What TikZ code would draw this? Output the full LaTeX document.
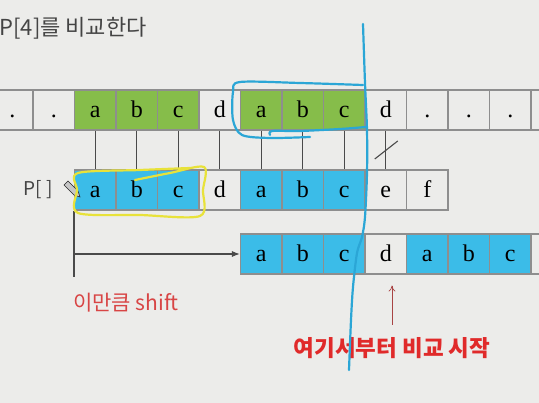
\documentclass[tikz,border=0pt]{standalone}
\usepackage{fontspec}
\setmainfont{Liberation Serif}
\newfontfamily\kr{Noto Sans CJK KR}
\usetikzlibrary{arrows.meta,calc}

\definecolor{bg}{HTML}{ECECEA}
\definecolor{cellgreen}{HTML}{86BD4A}
\definecolor{cellblue}{HTML}{3BBCE8}
\definecolor{cellline}{HTML}{8E8E8E}
\definecolor{linkgray}{HTML}{4A4A4A}
\definecolor{titlegray}{HTML}{444444}
\definecolor{penblue}{HTML}{2BA6D6}
\definecolor{penyellow}{HTML}{E8E23A}
\definecolor{softred}{HTML}{D84545}
\definecolor{darkred}{HTML}{A84444}
\definecolor{strongred}{HTML}{E02A2A}

\begin{document}
\begin{tikzpicture}[x=1pt,y=-1pt,
	cell/.style={draw=cellline,line width=1.1pt,minimum width=41.5pt,minimum height=40pt,
		inner sep=0pt,text height=18pt,text depth=2pt,font=\fontsize{24}{24}\selectfont},
	link/.style={draw=linkgray,line width=1.1pt},
	pen/.style={line width=2.2pt,line cap=round,line join=round}]
	\useasboundingbox (0,0) rectangle (539,403);
	\fill[bg] (0,0) rectangle (539,403);
	\clip (0,0) rectangle (539,403);

	\node[anchor=west,text=titlegray,font=\kr\fontsize{22}{22}\selectfont] (title) at (-4,28) {P[4]를 비교한다};

	% text row
	\foreach \t/\f [count=\i from 0] in {./bg,./bg,a/cellgreen,b/cellgreen,c/cellgreen,d/bg,a/cellgreen,b/cellgreen,c/cellgreen,d/bg,./bg,./bg,./bg,{}/bg}
		\node[cell,fill=\f] (t\i) at ({12.25+41.5*\i},110) {\t};

	% pattern row
	\foreach \t/\f [count=\i from 2] in {a/cellblue,b/cellblue,c/cellblue,d/bg,a/cellblue,b/cellblue,c/cellblue,e/bg,f/bg}
		\node[cell,fill=\f] (m\i) at ({12.25+41.5*\i},190) {\t};
	\node[text=titlegray,font=\kr\fontsize{19}{19}\selectfont] (plabel) at (38,190) {P[ ]};

	% shifted pattern row
	\foreach \t/\f [count=\i from 6] in {a/cellblue,b/cellblue,c/cellblue,d/bg,a/cellblue,b/cellblue,c/cellblue,{}/bg}
		\node[cell,fill=\f] (b\i) at ({12.25+41.5*\i},254) {\t};

	\foreach \i in {2,...,9}
		\draw[link] (t\i.south) -- (m\i.north);
	\draw[link] ($(t9.south)!0.5!(m9.north)+(-11,9)$) -- +(23,-18);

	% shift
	\coordinate (shiftend) at ($(m2.south west)+(0,66)$);
	\draw[link] (m2.south west) -- (shiftend);
	\draw[link,-{Latex[length=8pt,width=6pt]}] (m2.south west |- b6.west) -- (b6.west);
	\node[text=softred,font=\kr\fontsize{21}{21}\selectfont] (shiftlabel) at (126,303) {이만큼 shift};

	\node[text=strongred,font=\kr\bfseries\fontsize{22.5}{22.5}\selectfont] (startlabel) at (392,348) {여기서부터 비교 시작};
	\draw[darkred,line width=0.7pt,-{To[length=6pt,width=7pt]}] ($(startlabel.north)+(0,-9)$) -- ($(startlabel.north |- b9.south)+(0,11)$);

	% pencil cursor
	\draw[fill=gray!45,draw=gray!30!black,line width=0.6pt] (64,185) -- (68,181) -- (78,191) -- (80,197) -- (74,195) -- cycle;

	% marks drawn by hand
	\draw[pen,penyellow] plot[smooth] coordinates {(135,180) (170,173) (204,167) (203,190) (200,216) (140,215) (78,213) (77,190) (78,173) (140,170) (190,168)};
	\draw[pen,penblue] plot[smooth] coordinates {(363,85) (300,83) (240,82) (233,92) (233,120) (242,135) (270,138) (310,137)};
	\draw[pen,penblue] plot[smooth] coordinates {(270,135) (272,131) (300,131) (340,129) (366,127)};
	\draw[pen,penblue] plot[smooth] coordinates {(363,24) (365,83) (367,130) (367,173) (365,217) (362,237) (357,253) (353,287) (351,320) (349,370)};
\end{tikzpicture}
\end{document}
